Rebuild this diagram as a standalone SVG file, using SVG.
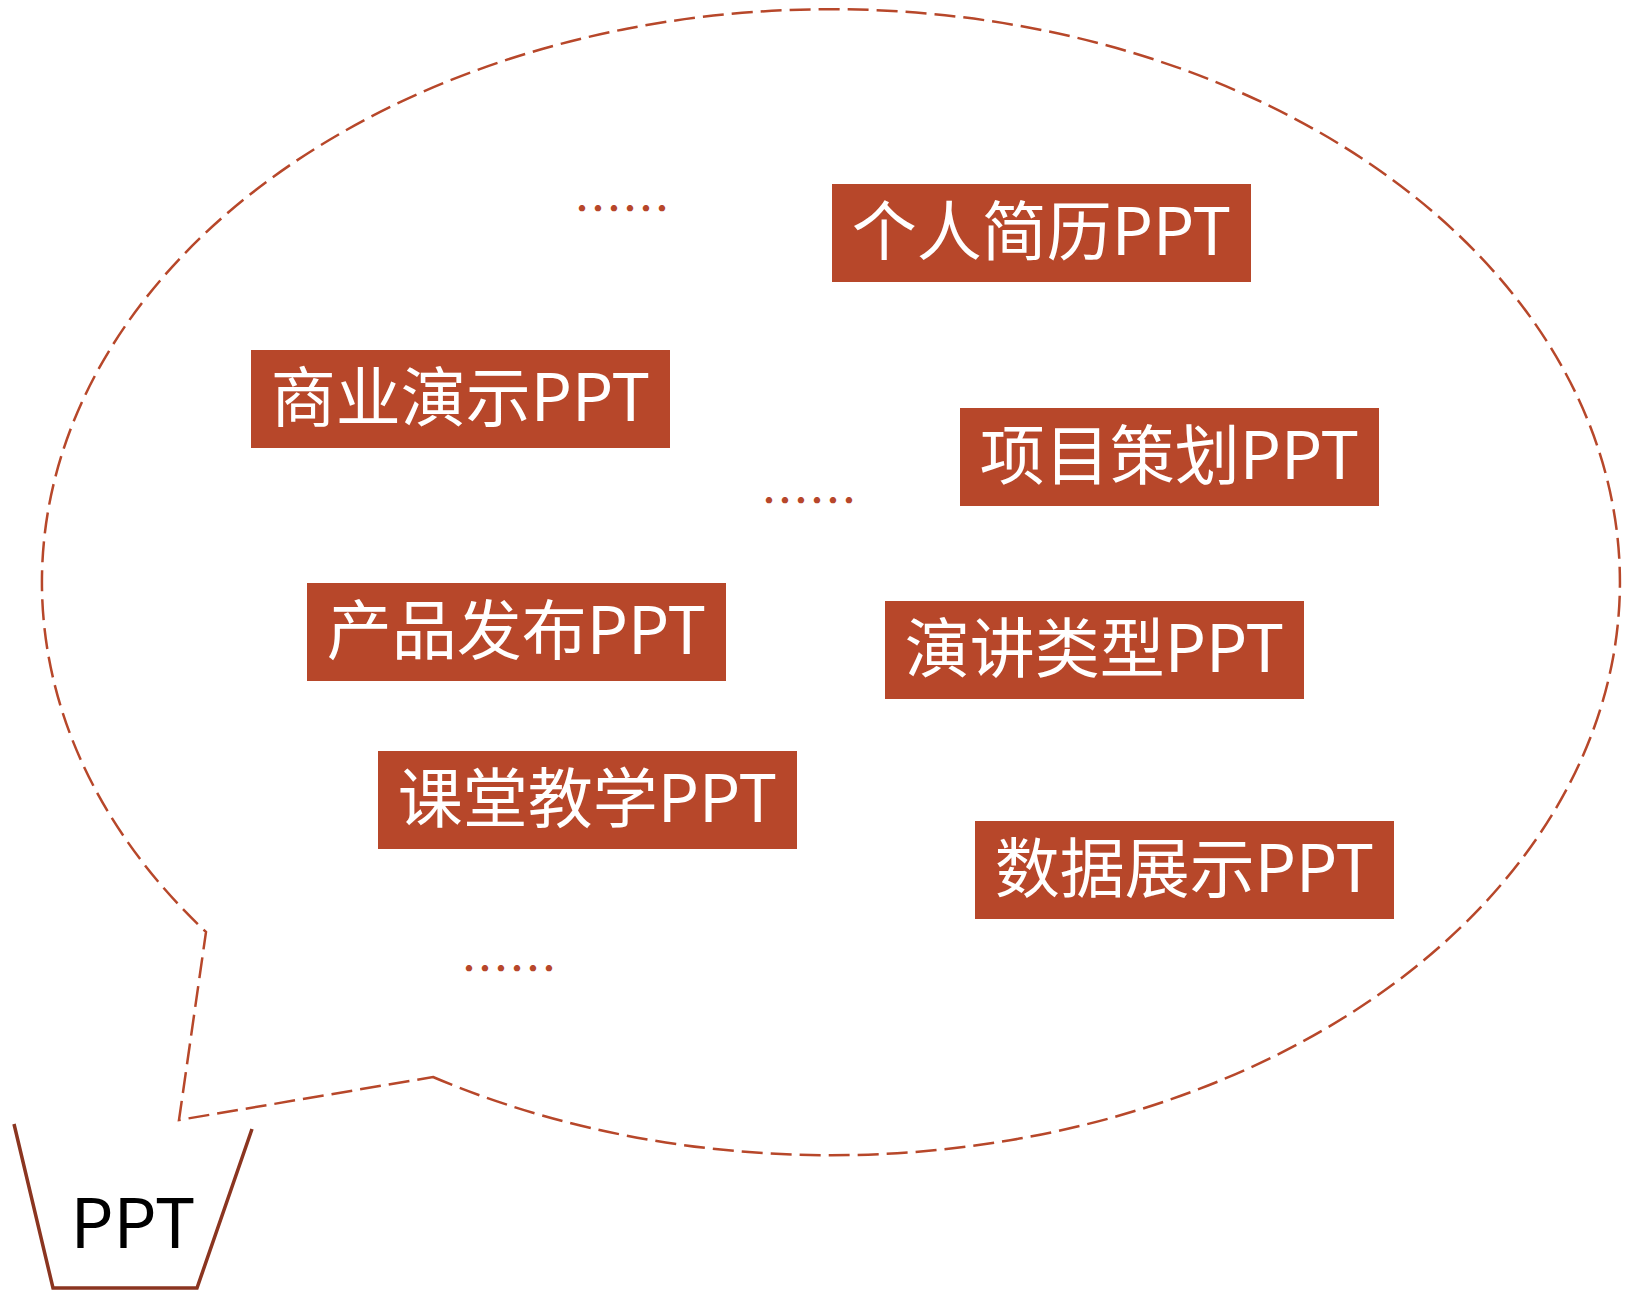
<svg xmlns="http://www.w3.org/2000/svg" width="1627" height="1291" viewBox="0 0 1627 1291">
<style>
.box{fill:#B7472A}
.lbl{fill:#FFFFFF;font-family:"Noto Sans CJK SC","Noto Sans",sans-serif;font-size:65px;text-anchor:middle}
.dots{fill:#B7472A;font-family:"Noto Sans CJK SC",sans-serif;font-size:48px;text-anchor:middle}
.balloon{fill:none;stroke:#B7472A;stroke-width:2.5;stroke-dasharray:21 8}
.bucket{fill:none;stroke:#8B3520;stroke-width:3.5}
</style>
<rect width="1627" height="1291" fill="#FFFFFF"/>
<g id="balloon">
<path class="balloon" d="M433,1077 A789,573 0 1 0 206,932 L179,1120 Z"/>
</g>
<g id="bucket">
<polyline class="bucket" points="14,1124 53,1288 197,1288 252,1129"/>
<text x="133" y="1248" font-family="'Noto Sans CJK SC','Noto Sans',sans-serif" font-size="68" text-anchor="middle" fill="#000000">PPT</text>
</g>
<g id="node1"><rect class="box" x="832" y="184" width="419" height="98"/><text class="lbl" x="1041.5" y="255">个人简历PPT</text></g>
<g id="node2"><rect class="box" x="251" y="350" width="419" height="98"/><text class="lbl" x="460.5" y="421">商业演示PPT</text></g>
<g id="node3"><rect class="box" x="960" y="408" width="419" height="98"/><text class="lbl" x="1169.5" y="479">项目策划PPT</text></g>
<g id="node4"><rect class="box" x="307" y="583" width="419" height="98"/><text class="lbl" x="516.5" y="654">产品发布PPT</text></g>
<g id="node5"><rect class="box" x="885" y="601" width="419" height="98"/><text class="lbl" x="1094.5" y="672">演讲类型PPT</text></g>
<g id="node6"><rect class="box" x="378" y="751" width="419" height="98"/><text class="lbl" x="587.5" y="822">课堂教学PPT</text></g>
<g id="node7"><rect class="box" x="975" y="821" width="419" height="98"/><text class="lbl" x="1184.5" y="892">数据展示PPT</text></g>
<g id="dots1"><text class="dots" x="622" y="226">……</text></g>
<g id="dots2"><text class="dots" x="809" y="518">……</text></g>
<g id="dots3"><text class="dots" x="509" y="986">……</text></g>
<g id="connectors"></g>
</svg>
